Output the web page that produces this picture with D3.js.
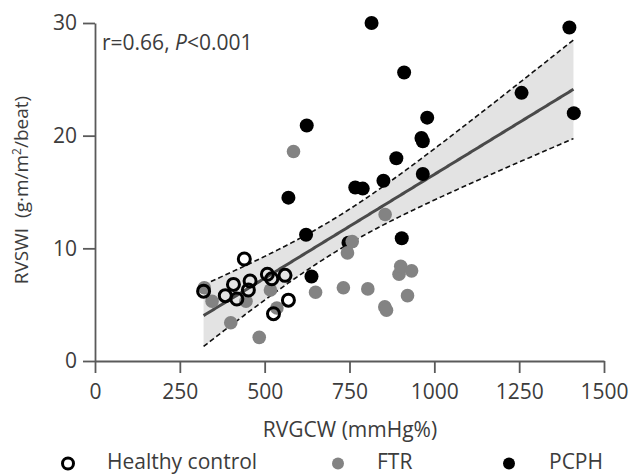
<!DOCTYPE html>
<html>
<head>
<meta charset="utf-8">
<script src="https://cdn.jsdelivr.net/npm/d3@7"></script>
<style>
  body { margin: 0; background: #fff; }
  text { font-family: "Open Sans", sans-serif; fill: #3c3c3c; }
</style>
</head>
<body>
<svg id="chart"></svg>
<script>
// RVGCW (x) vs RVSWI (y)
let healthyX = [320, 384, 408, 440, 418, 457, 452, 508, 521, 560, 570, 526];
let healthyY = [6.2, 5.8, 6.8, 9.05, 5.5, 7.1, 6.3, 7.7, 7.3, 7.6, 5.4, 4.2];

let ftrX = [322, 345, 400, 445, 484, 517, 536, 585, 650, 732, 744, 758, 804, 855, 854, 859, 896, 901, 933, 921];
let ftrY = [6.5, 5.3, 3.4, 5.3, 2.1, 6.3, 4.7, 18.6, 6.1, 6.5, 9.6, 10.6, 6.4, 13.0, 4.8, 4.5, 7.7, 8.4, 8.0, 5.8];

let pcphX = [570, 624, 622, 638, 747, 767, 789, 815, 850, 888, 904, 911, 962, 966, 966, 979, 1257, 1398, 1411];
let pcphY = [14.5, 20.9, 11.2, 7.5, 10.5, 15.4, 15.3, 30.0, 16.0, 18.0, 10.9, 25.6, 19.8, 19.5, 16.6, 21.6, 23.8, 29.6, 22.0];

let xTicks = [0, 250, 500, 750, 1000, 1250, 1500];
let yTicks = [0, 10, 20, 30];
let groups = ["Healthy control", "FTR", "PCPH"];

let width = 630, height = 475;
let margin = {left: 95, right: 26, top: 23, bottom: 114};

let svg = d3.select("#chart").attr("width", width).attr("height", height);

let x = d3.scaleLinear().domain([0, 1500]).range([margin.left, width - margin.right]);
let y = d3.scaleLinear().domain([0, 30]).range([height - margin.bottom, margin.top]);

// least squares fit over all points + 95% confidence band
let allX = healthyX.concat(ftrX, pcphX);
let allY = healthyY.concat(ftrY, pcphY);
let n = allX.length;
let mx = d3.mean(allX), my = d3.mean(allY);
let sxx = d3.sum(allX, v => (v - mx) * (v - mx));
let sxy = d3.sum(allX, (v, i) => (v - mx) * (allY[i] - my));
let slope = sxy / sxx;
let icpt = my - slope * mx;
let sse = d3.sum(allX, (v, i) => Math.pow(allY[i] - (icpt + slope * v), 2));
let se = Math.sqrt(sse / (n - 2));
let tval = 2.01;

let xs = d3.range(d3.min(allX), d3.max(allX) + 1, 5);
let band = xs.map(v => {
  let fit = icpt + slope * v;
  let h = tval * se * Math.sqrt(1 / n + (v - mx) * (v - mx) / sxx);
  return {x: v, fit: fit, lo: fit - h, hi: fit + h};
});

svg.append("path")
  .datum(band)
  .attr("fill", "#e3e3e3")
  .attr("d", d3.area().x(d => x(d.x)).y0(d => y(d.lo)).y1(d => y(d.hi)));

["lo", "hi"].forEach(k => {
  svg.append("path")
    .datum(band)
    .attr("fill", "none")
    .attr("stroke", "#111")
    .attr("stroke-width", 1.6)
    .attr("stroke-dasharray", "5,3")
    .attr("d", d3.line().x(d => x(d.x)).y(d => y(d[k])));
});

svg.append("path")
  .datum(band)
  .attr("fill", "none")
  .attr("stroke", "#4a4a4a")
  .attr("stroke-width", 3)
  .attr("d", d3.line().x(d => x(d.x)).y(d => y(d.fit)));

// axes
let xAxis = svg.append("g")
  .attr("transform", `translate(0,${y(0)})`)
  .call(d3.axisBottom(x).tickValues(xTicks).tickFormat(d3.format("d"))
    .tickSize(12).tickSizeOuter(0).tickPadding(11));

let yAxis = svg.append("g")
  .attr("transform", `translate(${x(0)},0)`)
  .call(d3.axisLeft(y).tickValues(yTicks).tickFormat(d3.format("d"))
    .tickSize(12).tickSizeOuter(0).tickPadding(6));

[xAxis, yAxis].forEach(a => {
  a.select(".domain").attr("stroke", "#5a5a5a").attr("stroke-width", 1.8);
  a.selectAll(".tick line").attr("stroke", "#5a5a5a").attr("stroke-width", 1.8);
  a.selectAll(".tick text")
    .attr("fill", "#3c3c3c")
    .style("font-family", "'Open Sans', sans-serif")
    .style("font-size", "21px");
});

// points
svg.append("g").selectAll("circle")
  .data(pcphX.map((v, i) => [v, pcphY[i]]))
  .join("circle")
  .attr("cx", d => x(d[0])).attr("cy", d => y(d[1]))
  .attr("r", 7).attr("fill", "#000");

svg.append("g").selectAll("circle")
  .data(ftrX.map((v, i) => [v, ftrY[i]]))
  .join("circle")
  .attr("cx", d => x(d[0])).attr("cy", d => y(d[1]))
  .attr("r", 6.8).attr("fill", "#838383");

svg.append("g").selectAll("circle")
  .data(healthyX.map((v, i) => [v, healthyY[i]]))
  .join("circle")
  .attr("cx", d => x(d[0])).attr("cy", d => y(d[1]))
  .attr("r", 6).attr("fill", "none").attr("stroke", "#000").attr("stroke-width", 3);

// annotation
let ann = svg.append("text").attr("x", 102).attr("y", 50).style("font-size", "21px");
ann.append("tspan").text("r=0.66, ");
ann.append("tspan").style("font-style", "italic").text("P");
ann.append("tspan").text("<0.001");

// axis titles
svg.append("text")
  .attr("x", 350).attr("y", 437)
  .attr("text-anchor", "middle")
  .style("font-size", "21px")
  .text("RVGCW (mmHg%)");

let yl = svg.append("text")
  .attr("transform", "translate(28,190) rotate(-90)")
  .attr("text-anchor", "middle")
  .style("font-size", "19px");
yl.append("tspan").text("RVSWI ");
yl.append("tspan").attr("dx", 5).text("(g·m/m");
yl.append("tspan").attr("dy", -7).style("font-size", "12px").text("2");
yl.append("tspan").attr("dy", 7).text("/beat)");

// legend
let legend = svg.append("g");
let legX = [68, 338, 509];
let legTx = [107, 377, 549];
groups.forEach((g, i) => {
  let c = legend.append("circle").attr("cx", legX[i]).attr("cy", 463.5);
  if (i === 0) {
    c.attr("r", 5.5).attr("fill", "none").attr("stroke", "#000").attr("stroke-width", 3);
  } else {
    c.attr("r", 6).attr("fill", i === 1 ? "#838383" : "#000");
  }
  legend.append("text")
    .attr("x", legTx[i]).attr("y", 469)
    .style("font-size", "21px")
    .text(g);
});
</script>
</body>
</html>
